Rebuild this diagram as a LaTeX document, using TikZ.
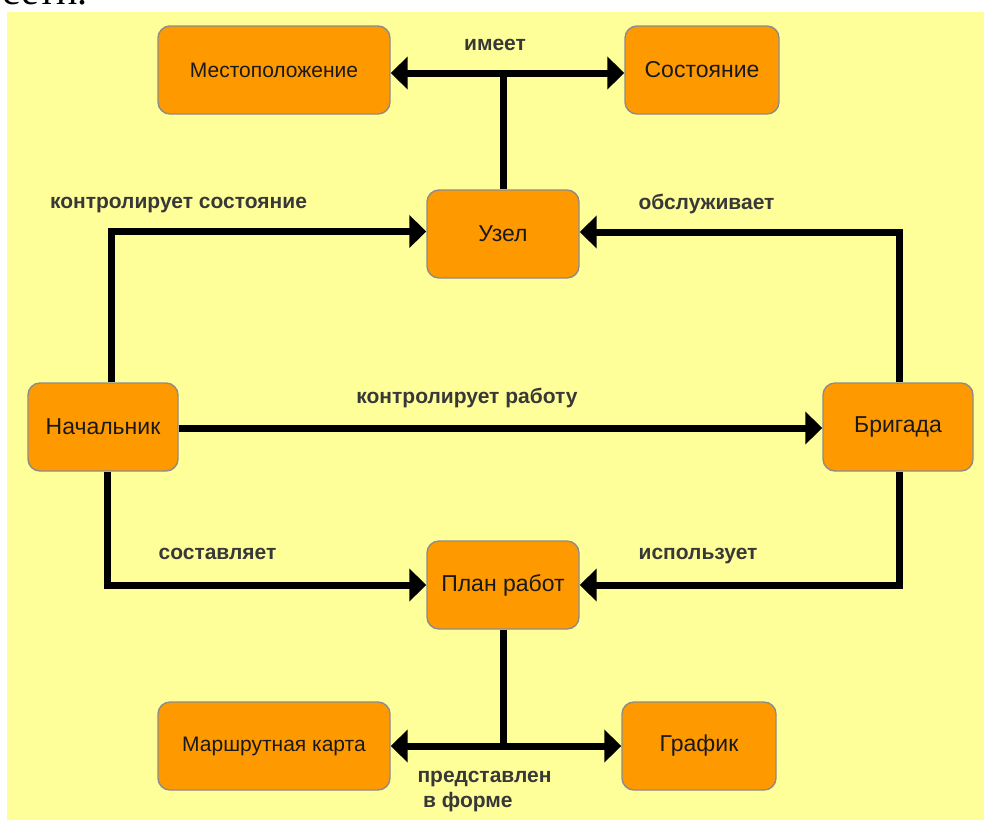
\documentclass[tikz,border=0pt]{standalone}
\usepackage{fontspec}
\setmainfont{Liberation Sans}
\newfontfamily\serifcut{Liberation Serif}
\usetikzlibrary{arrows.meta}
\definecolor{bgyellow}{HTML}{FFFF99}
\definecolor{boxorange}{HTML}{FF9900}
\definecolor{boxborder}{HTML}{8C8C8C}
\definecolor{labelgray}{HTML}{383838}
\begin{document}
\begin{tikzpicture}[x=1pt,y=-1pt,
  box/.style={rectangle, rounded corners=12pt, draw=boxborder, line width=1.4pt,
    fill=boxorange, inner sep=0pt, text=black!90, font=\fontsize{23}{27}\selectfont},
  boxsmall/.style={box, font=\fontsize{21}{25}\selectfont},
  lbl/.style={anchor=base, text=labelgray, font=\bfseries\fontsize{21}{25}\selectfont, inner sep=0pt},
  link/.style={line width=7pt, draw=black},
  arr/.style={link, -{Triangle[length=17pt,width=32pt]}}]
\useasboundingbox (0,0) rectangle (984,820);
\fill[white] (0,0) rectangle (984,820);
\fill[bgyellow] (7,12) rectangle (984,820);
\begin{scope}
  \clip (0,0) rectangle (984,820);
  \node[anchor=base east, inner sep=0pt, font=\serifcut\fontsize{40}{44}\selectfont] (cut) at (88,4) {сети.};
\end{scope}

% nodes
\node[boxsmall, minimum width=232pt, minimum height=88pt] (mest) at (274,70) {Местоположение};
\node[box, minimum width=154pt, minimum height=88pt] (sost) at (702,70) {Состояние};
\node[box, minimum width=152pt, minimum height=88pt] (uzel) at (503,234) {Узел};
\node[box, minimum width=150pt, minimum height=88pt] (nach) at (103,427) {Начальник};
\node[box, minimum width=150pt, minimum height=88pt] (brig) at (898,427) {Бригада};
\node[box, minimum width=152pt, minimum height=88pt] (plan) at (503,585) {План работ};
\node[boxsmall, minimum width=232pt, minimum height=88pt] (marsh) at (274,746) {Маршрутная карта};
\node[box, minimum width=154pt, minimum height=88pt] (graf) at (699,746) {График};

% connectors
\coordinate (jt) at (503,73);
\draw[link] (uzel.north) -- (jt);
\draw[arr] (jt) -- (mest.east |- jt);
\draw[arr] (jt) -- (sost.west |- jt);

\coordinate (jb) at (503,746);
\draw[link] (plan.south) -- (jb);
\draw[arr] (jb) -- (marsh.east |- jb);
\draw[arr] (jb) -- (graf.west |- jb);

\draw[arr] ([xshift=8.5pt]nach.north) |- ([yshift=2.5pt]uzel.west);
\draw[arr] ([xshift=4pt]nach.south) |- (plan.west);
\draw[arr] ([yshift=-1pt]nach.east) -- ([yshift=-1pt]brig.west);
\draw[arr] ([xshift=1pt]brig.north) |- ([yshift=2pt]uzel.east);
\draw[arr] ([xshift=1pt]brig.south) |- (plan.east);

% labels
\node[lbl] (l1) at (495,50) {имеет};
\node[lbl] (l2) at (178.5,208) {контролирует состояние};
\node[lbl] (l3) at (706.5,209) {обслуживает};
\node[lbl] (l4) at (467,403) {контролирует работу};
\node[lbl] (l5) at (217.5,559) {составляет};
\node[lbl] (l6) at (698,559) {использует};
\node[lbl] (l7) at (484.5,782) {представлен};
\node[lbl, anchor=base west] (l8) at (423,807) {в форме};
\end{tikzpicture}
\end{document}
